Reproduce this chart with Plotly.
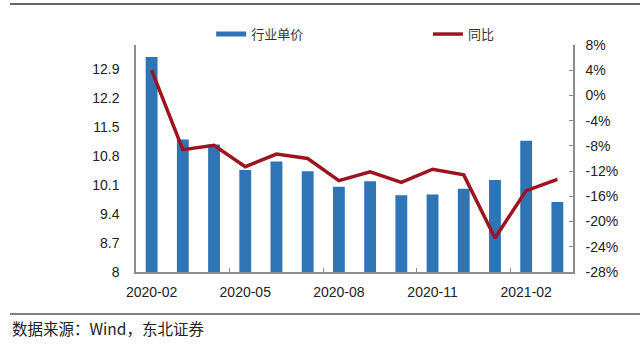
import plotly.graph_objects as go

months = ["2020-02", "2020-03", "2020-04", "2020-05", "2020-06", "2020-07", "2020-08",
          "2020-09", "2020-10", "2020-11", "2020-12", "2021-01", "2021-02", "2021-03"]
unit_price = [13.19, 11.20, 11.08, 10.46, 10.67, 10.43, 10.06,
              10.19, 9.85, 9.87, 10.01, 10.22, 11.17, 9.69]
yoy_pct = [4.0, -8.6, -7.9, -11.3, -9.3, -10.0, -13.5,
           -12.1, -13.8, -11.7, -12.6, -22.6, -15.1, -13.3]

left_ticks = [8, 8.7, 9.4, 10.1, 10.8, 11.5, 12.2, 12.9]
right_ticks = [-28, -24, -20, -16, -12, -8, -4, 0, 4, 8]
label_months = ["2020-02", "2020-05", "2020-08", "2020-11", "2021-02"]

bar_name = "行业单价"
line_name = "同比"
source_text = "数据来源：Wind，东北证券"

BLUE = "#2E75B6"
RED = "#9C1420"
TXT = "#222222"
AX = "#8c8c8c"

idx = list(range(len(months)))
label_idx = [months.index(m) for m in label_months]
boundary_idx = [i - 0.5 for i in label_idx[1:]]

fig = go.Figure()
fig.add_trace(go.Bar(x=idx, y=unit_price, marker=dict(color=BLUE, line=dict(width=0)),
                     width=0.38, showlegend=False, yaxis="y"))
fig.add_trace(go.Scatter(x=idx, y=yoy_pct, mode="lines", line=dict(color=RED, width=3.5),
                         showlegend=False, yaxis="y2"))
# legend entries
fig.add_trace(go.Scatter(x=[None], y=[None], mode="lines", name=bar_name,
                         line=dict(color=BLUE, width=5), yaxis="y", legend="legend"))
fig.add_trace(go.Scatter(x=[None], y=[None], mode="lines", name=line_name,
                         line=dict(color=RED, width=3.5), yaxis="y2", legend="legend2"))

font_main = "Liberation Sans, Arial, sans-serif"
cjk = "Noto Sans CJK SC, sans-serif"
leg_font = dict(family=cjk, size=13, color="#333333")

fig.update_layout(
    width=640, height=352,
    margin=dict(l=136, r=67, t=45, b=80),
    paper_bgcolor="white", plot_bgcolor="white",
    font=dict(family=font_main, size=14, color=TXT),
    xaxis=dict(range=[-0.5, len(months) - 0.5], tickmode="array", tickvals=label_idx,
               ticktext=label_months, ticks="", showline=True, linecolor=AX, linewidth=1.5,
               showgrid=False, zeroline=False, ticklabelstandoff=6,
               minor=dict(tickmode="array", tickvals=boundary_idx, ticks="inside",
                          ticklen=4, tickcolor=AX, showgrid=False)),
    yaxis=dict(range=[8, 13.48], tickmode="array", tickvals=left_ticks, ticks="",
               showline=True, linecolor=AX, linewidth=1.5, showgrid=False, zeroline=False,
               ticklabelstandoff=12),
    yaxis2=dict(range=[-28, 8], overlaying="y", side="right", tickmode="array",
                tickvals=right_ticks, ticktext=[f"{v}%" for v in right_ticks],
                ticks="inside", ticklen=4, tickcolor=AX, showline=True, linecolor=AX,
                linewidth=1.5, showgrid=False, zeroline=False, ticklabelstandoff=8),
    legend=dict(orientation="h", x=0.172, y=1.048, xanchor="left", yanchor="middle",
                font=leg_font, bgcolor="rgba(0,0,0,0)", itemwidth=30),
    legend2=dict(orientation="h", x=0.668, y=1.048, xanchor="left", yanchor="middle",
                 font=leg_font, bgcolor="rgba(0,0,0,0)", itemwidth=30),
    showlegend=True,
)

fig.add_shape(type="line", xref="paper", yref="paper", x0=-0.2883, x1=1.1533, y0=1.1806, y1=1.1806,
              line=dict(color="#666666", width=2))
fig.add_shape(type="line", xref="paper", yref="paper", x0=-0.2883, x1=1.1533, y0=-0.185, y1=-0.185,
              line=dict(color="#555555", width=1.5))
fig.add_annotation(text=source_text, xref="paper", yref="paper", x=-0.2883, y=-0.2467,
                   xanchor="left", yanchor="middle", showarrow=False,
                   font=dict(family=cjk, size=15.5, color="#222222"))

fig.write_html("out.html")
